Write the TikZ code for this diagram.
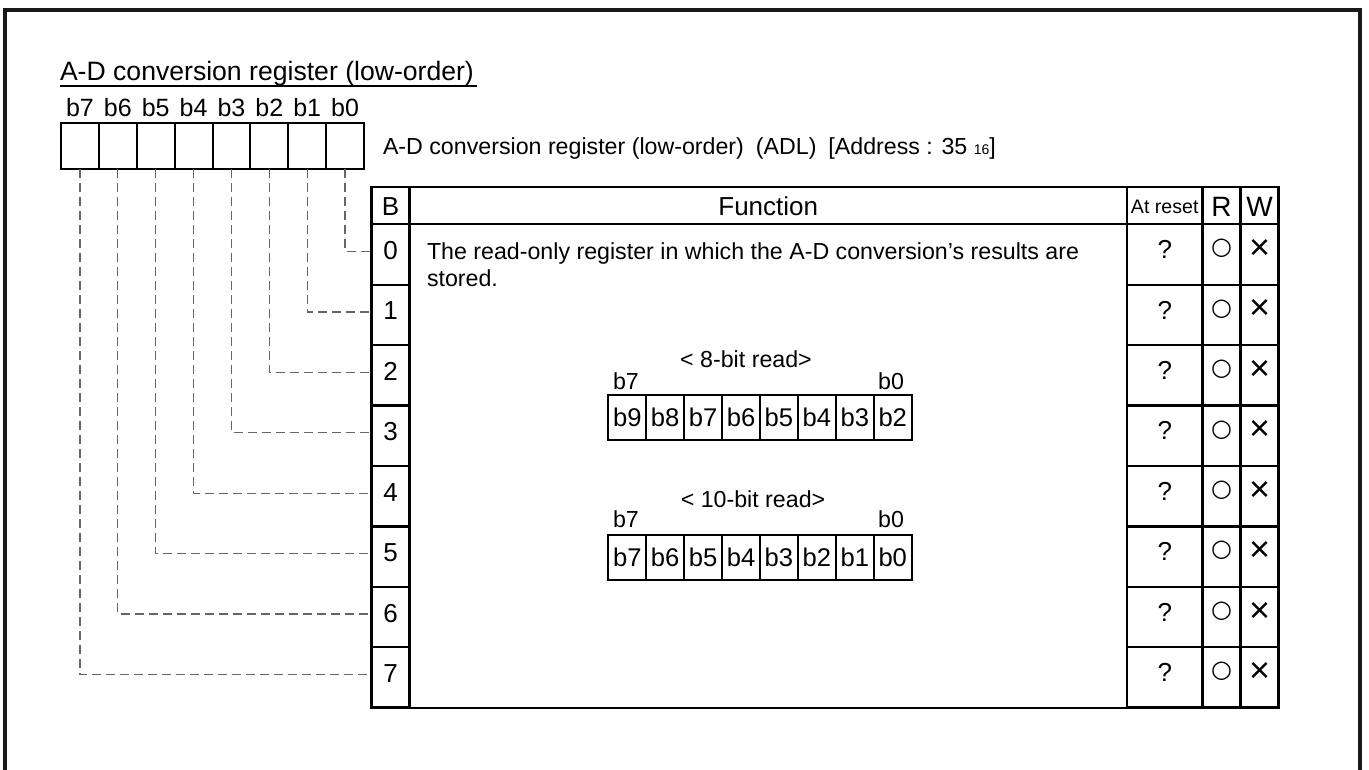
\documentclass[tikz,border=0pt]{standalone}
\usepackage{fontspec}
\setmainfont{Liberation Sans}
\newfontfamily\symfont{DejaVu Sans}
\usetikzlibrary{calc}
\begin{document}
\begin{tikzpicture}[x=0.5pt,y=-0.5pt,
  every node/.style={inner sep=0pt,outer sep=0pt},
  txt/.style={font=\fontsize{11.6}{13.5}\selectfont},
  bigtxt/.style={font=\fontsize{13}{15}\selectfont},
  titletxt/.style={font=\fontsize{13.3}{15}\selectfont},
  bitlbl/.style={font=\fontsize{12.5}{14}\selectfont},
  smalltxt/.style={font=\fontsize{9.8}{11}\selectfont},
  regcell/.style={draw,line width=1pt,minimum width=18.94pt,minimum height=23pt},
  inreg/.style={draw,line width=1pt,minimum width=18.94pt,minimum height=22.5pt,font=\fontsize{12.8}{14}\selectfont},
  tcell/.style={draw,line width=1.2pt},
  dashln/.style={draw=black!60,line width=0.6pt,dash pattern=on 4.5pt off 2.5pt},
  frameln/.style={line width=2.25pt,draw=black!90}
]
\useasboundingbox (0,0) rectangle (1369,770);
% outer frame
\draw[frameln] (5,771) -- (5,10) -- (1360,10) -- (1360,771);

% title
\node[titletxt,anchor=base west] (title) at (60,81) {A-D conversion register (low-order)};
\draw[line width=0.8pt] ([yshift=-2.5pt]title.base west) -- ([yshift=-2.5pt,xshift=1.5pt]title.base east);

% register cells and bit labels
\foreach \i/\b in {0/7,1/6,2/5,3/4,4/3,5/2,6/1,7/0}{
  \pgfmathsetmacro{\xc}{61+37.875*(\i+0.5)}
  \node[regcell] (r\b) at (\xc,146) {};
  \node[bitlbl,anchor=base] (lb\b) at (\xc,117) {b\b};
}
\node[txt,anchor=base west] (desc) at (383,155) {A-D conversion register (low-order)\hspace{6pt}(ADL)\hspace{6pt}[Address : 35 {\fontsize{7}{8}\selectfont 16}]};

% table header
\node[tcell,minimum width=19pt,minimum height=18.65pt] (hB) at (390.5,205.65) {};
\node[bigtxt] at ([yshift=-0.5pt]hB.center) {B};
\node[tcell,minimum width=358.75pt,minimum height=18.65pt] (hF) at (768.25,205.65) {};
\node[bigtxt] at ([yshift=-0.5pt]hF.center) {Function};
\node[tcell,minimum width=37.75pt,minimum height=18.65pt] (hA) at (1164.75,205.65) {};
\node[smalltxt] at ([yshift=-0.5pt]hA.center) {At reset};
\node[tcell,minimum width=19pt,minimum height=18.65pt] (hR) at (1221.5,205.65) {};
\node[font=\fontsize{14}{16}\selectfont] at ([yshift=-0.5pt]hR.center) {R};
\node[tcell,minimum width=19pt,minimum height=18.65pt] (hW) at (1259.5,205.65) {};
\node[font=\fontsize{14}{16}\selectfont] at ([yshift=-0.5pt]hW.center) {W};

% function body
\node[tcell,minimum width=358.75pt,minimum height=241.7pt] (fn) at (768.25,466) {};

% rows
\foreach \b in {0,...,7}{
  \pgfmathsetmacro{\yc}{224.3+60.425*\b+30.2}
  \node[tcell,minimum width=19pt,minimum height=30.2pt] (bc\b) at (390.5,\yc) {};
  \node[bigtxt] (d\b) at ([yshift=2pt]bc\b.center) {\b};
  \node[tcell,minimum width=37.75pt,minimum height=30.2pt] (ar\b) at (1164.75,\yc) {};
  \node[bigtxt] (q\b) at ([yshift=2.5pt]ar\b.center) {?};
  \node[tcell,minimum width=19pt,minimum height=30.2pt] (rr\b) at (1221.5,\yc) {};
  \node[font=\symfont\fontsize{12}{14}\selectfont] (o\b) at ([yshift=3pt]rr\b.center) {○};
  \node[tcell,minimum width=19pt,minimum height=30.2pt] (wr\b) at (1259.5,\yc) {};
  \node[font=\fontsize{18}{20}\selectfont] (x\b) at ([yshift=2.5pt]wr\b.center) {×};
  \draw[dashln] (r\b.south) |- ([yshift=1.5pt]bc\b.west);
}

% function text
\node[txt,anchor=base west] (ft1) at (427,259) {The read-only register in which the A-D conversion’s results are};
\node[txt,anchor=base west] (ft2) at (427,286) {stored.};

% 8-bit read register
\node[txt,anchor=base] (l8) at (746,367) {< 8-bit read>};
\node[txt,anchor=base west] (l8a) at (613,389) {b7};
\node[txt,anchor=base east] (l8b) at (904,389) {b0};
\foreach \i/\c in {0/9,1/8,2/7,3/6,4/5,5/4,6/3,7/2}{
  \pgfmathsetmacro{\xc}{608.3+37.925*(\i+0.5)}
  \node[inreg] (e\i) at (\xc,417.5) {b\c};
}
% 10-bit read register
\node[txt,anchor=base] (l10) at (753,507) {< 10-bit read>};
\node[txt,anchor=base west] (l10a) at (613,527) {b7};
\node[txt,anchor=base east] (l10b) at (904,527) {b0};
\foreach \i/\c in {0/7,1/6,2/5,3/4,4/3,5/2,6/1,7/0}{
  \pgfmathsetmacro{\xc}{608.3+37.925*(\i+0.5)}
  \node[inreg] (t\i) at (\xc,557.5) {b\c};
}
\end{tikzpicture}
\end{document}
